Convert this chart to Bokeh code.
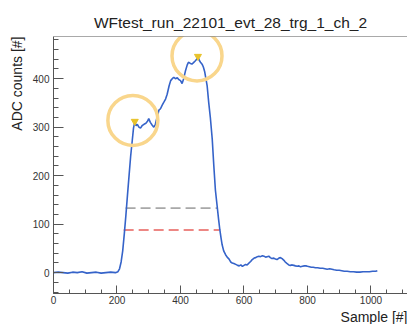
from bokeh.plotting import figure
from bokeh.models import Range1d, Span, SingleIntervalTicker, Title
from bokeh.embed import file_html
from bokeh.resources import INLINE

# ---- data ----
sample = [0, 15, 30, 45, 60, 75, 90, 105, 120, 135, 150, 165, 180, 195, 203, 208, 213, 218, 223, 228,
          233, 238, 243, 248, 252, 256, 260, 264, 269, 274, 279, 285, 291, 296, 300, 305, 311, 316, 321, 326,
          332, 337, 342, 348, 353, 358, 364, 369, 374, 379, 384, 390, 395, 400, 405, 410, 416, 421, 425, 430,
          436, 441, 447, 451, 455, 459, 463, 468, 472, 476, 480, 484, 489, 494, 500, 505, 510, 515, 520, 524,
          528, 531, 536, 542, 547, 553, 558, 563, 568, 574, 580, 585, 590, 595, 600, 605, 610, 616, 621, 626,
          632, 637, 642, 647, 652, 658, 663, 668, 673, 678, 683, 688, 694, 699, 704, 710, 715, 720, 725, 730,
          735, 741, 746, 752, 757, 762, 768, 773, 778, 784, 790, 795, 800, 806, 812, 818, 825, 832, 840, 848,
          855, 862, 870, 877, 884, 892, 900, 908, 916, 925, 935, 945, 955, 965, 975, 985, 995, 1005, 1015, 1020]
adc = [0, 1, 0, -1, 1, 0, 2, -1, 0, 1, -1, 0, 1, 0, 2, 8, 22, 45, 80, 118,
       160, 200, 240, 272, 298, 311, 303, 306, 300, 298, 303, 306, 308, 312, 318, 310, 304, 300, 306, 320,
       335, 338, 345, 352, 358, 368, 385, 396, 400, 403, 400, 402, 398, 396, 390, 400, 417, 428, 434, 432,
       430, 433, 437, 440, 445, 438, 434, 430, 424, 415, 400, 385, 350, 320, 275, 220, 170, 140, 110, 88,
       70, 58, 45, 37, 32, 28, 22, 20, 19, 17, 15, 14, 16, 13, 15, 17, 16, 20, 23, 27,
       30, 31, 33, 34, 33, 35, 34, 32, 33, 34, 31, 29, 30, 28, 27, 30, 31, 29, 26, 22,
       19, 16, 15, 16, 15, 14, 13, 14, 12, 13, 14, 14, 13, 12, 11, 11, 10, 10, 9, 9,
       8, 7, 8, 7, 6, 5, 5, 4, 3, 3, 2, 2, 1, 1, 2, 2, 2, 3, 3, 4]

peak_x = [256, 455]
peak_y = [312, 446]
ring_x = [250, 452]
ring_y = [314, 447]

thr_x0 = [227, 221]
thr_x1 = [515, 523]
thr_y = [133, 88]
thr_colors = ["#a8a8a8", "#e8605c"]

title_text = "WFtest_run_22101_evt_28_trg_1_ch_2"
ylabel_text = "ADC counts [#]"
xlabel_text = "Sample [#]"

FONT = "Liberation Sans"

p = figure(width=407, height=324, output_backend="svg", toolbar_location=None,
           x_range=Range1d(0, 1115), y_range=Range1d(-43, 487),
           min_border_left=53, min_border_right=0, min_border_top=36, min_border_bottom=30)
p.outline_line_color = None
p.grid.visible = False
p.background_fill_color = "white"
p.border_fill_color = "white"

p.title.text = title_text
p.title.align = "center"
p.title.vertical_align = "middle"
p.title.text_font = FONT
p.title.text_font_size = "15.5px"
p.title.text_font_style = "normal"
p.title.text_color = "#222222"

for ax in (p.xaxis[0], p.yaxis[0]):
    ax.axis_line_color = "#555555"
    ax.major_tick_line_color = "#555555"
    ax.minor_tick_line_color = "#555555"
    ax.major_tick_out = 0
    ax.minor_tick_out = 0
    ax.major_label_text_font = FONT
    ax.major_label_text_font_size = "10px"
    ax.major_label_text_color = "#333333"

p.xaxis.ticker = SingleIntervalTicker(interval=200, num_minor_ticks=4)
p.yaxis.ticker = SingleIntervalTicker(interval=100, num_minor_ticks=5)
p.xaxis.major_tick_in = 8
p.xaxis.minor_tick_in = 4
p.yaxis.major_tick_in = 10
p.yaxis.minor_tick_in = 5
p.xaxis.major_label_standoff = 2
p.yaxis.major_label_standoff = 4

p.add_layout(Title(text=ylabel_text, align="right", text_font=FONT, text_font_size="14px",
                   text_font_style="normal", text_color="#222222"), "left")
p.add_layout(Title(text=xlabel_text, align="right", text_font=FONT, text_font_size="14px",
                   text_font_style="normal", text_color="#222222", standoff=0), "below")

p.add_layout(Span(location=487, dimension="width", line_color="#555555", line_width=1))

# threshold dashed lines
p.segment(x0=thr_x0, x1=thr_x1, y0=thr_y, y1=thr_y, line_color=thr_colors,
          line_width=1.6, line_dash="10 5")

# waveform
p.line(sample, adc, line_color="#3563c9", line_width=1.6)

# peak markers
p.scatter(peak_x, peak_y, marker="inverted_triangle", size=7,
          fill_color="#e8c22a", line_color="#e8c22a")

# highlight rings
p.scatter(ring_x, ring_y, marker="circle", size=50, fill_color=None,
          line_color="#f9d68c", line_width=3.5)

open("out.html", "w").write(file_html(p, INLINE))
